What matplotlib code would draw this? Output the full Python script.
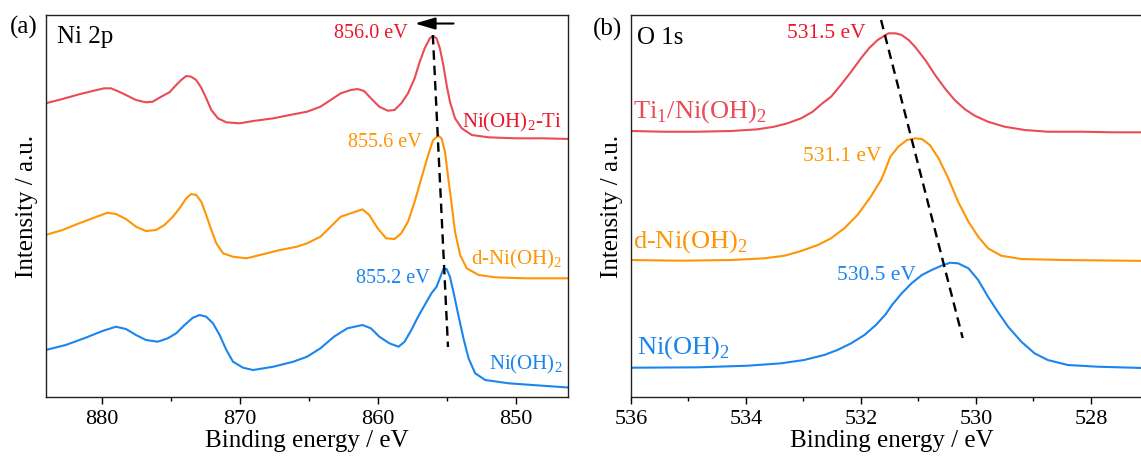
import matplotlib
matplotlib.use("Agg")
import matplotlib.pyplot as plt
from matplotlib.ticker import MultipleLocator

plt.rcParams['font.family'] = ['Liberation Serif', 'DejaVu Serif']
plt.rcParams['mathtext.fontset'] = 'custom'
plt.rcParams['mathtext.rm'] = 'Liberation Serif'

RED = '#ea4b55'
RED_TXT = '#e8192c'
ORANGE = '#ff9505'
BLUE = '#1b85ee'

ni_ticks = [880, 870, 860, 850]
o_ticks = [536, 534, 532, 530, 528]

# ---- Ni 2p spectra (binding energy / eV, intensity in a.u. with offsets)
ni_ti_be = [884.08, 882.86, 881.65, 880.68, 879.83, 879.34, 878.86, 878.25, 877.52, 876.80,
            876.31, 875.70, 875.10, 874.61, 874.25, 873.88, 873.52, 873.16, 872.79, 872.43,
            872.06, 871.58, 870.97, 870.00, 869.03, 867.57, 866.12, 865.12, 864.15, 863.41,
            862.68, 861.95, 861.46, 860.98, 860.49, 859.88, 859.27, 858.78, 858.29, 857.80,
            857.32, 856.95, 856.59, 856.22, 855.98, 855.73, 855.49, 855.24, 855.00, 854.76,
            854.39, 853.90, 853.17, 851.95, 850.00, 848.05, 845.95]
ni_ti_int = [293.7, 298.0, 302.7, 306.0, 308.7, 308.7, 306.0, 302.0, 297.0, 294.7,
             295.3, 300.3, 304.7, 312.0, 317.0, 321.0, 320.3, 317.0, 309.3, 298.7,
             287.0, 278.7, 274.7, 273.7, 276.0, 278.7, 282.7, 285.3, 290.3, 297.0,
             303.7, 307.0, 308.0, 306.0, 298.7, 290.3, 286.3, 287.0, 293.7, 303.7,
             318.7, 335.3, 348.7, 358.7, 361.0, 358.7, 348.7, 332.0, 312.0, 295.3,
             278.7, 268.7, 262.0, 259.7, 258.7, 258.7, 258.0]

d_ni_be = [884.08, 882.86, 881.65, 880.68, 879.59, 878.98, 878.25, 877.52, 876.80, 876.07,
           875.46, 874.85, 874.37, 873.88, 873.52, 873.16, 872.79, 872.43, 872.06, 871.70,
           871.21, 870.49, 869.51, 868.54, 867.09, 865.87, 865.12, 864.15, 863.41, 862.68,
           861.95, 861.10, 860.61, 860.00, 859.39, 858.78, 858.29, 857.80, 857.32, 856.83,
           856.34, 855.98, 855.61, 855.37, 855.12, 854.88, 854.63, 854.39, 854.02, 853.54,
           852.68, 851.46, 849.27, 845.95]
d_ni_int = [162.0, 167.0, 173.7, 178.7, 184.3, 183.0, 178.0, 170.3, 166.0, 167.0,
            172.0, 180.3, 188.7, 198.7, 203.0, 202.0, 195.3, 182.0, 167.0, 153.7,
            143.7, 140.3, 138.7, 142.0, 147.0, 150.3, 153.7, 160.3, 170.3, 180.3,
            183.7, 187.7, 182.0, 168.7, 158.7, 158.0, 163.7, 175.3, 195.3, 218.7,
            242.0, 257.0, 261.3, 258.7, 245.3, 218.7, 192.0, 165.3, 142.0, 128.7,
            122.0, 119.7, 118.7, 118.7]

ni_be = [884.08, 882.62, 881.17, 879.96, 878.98, 878.25, 877.52, 876.80, 875.95, 875.22,
         874.61, 874.00, 873.40, 872.91, 872.43, 871.94, 871.46, 870.97, 870.49, 869.76,
         869.03, 867.57, 866.12, 865.12, 864.15, 863.17, 862.20, 861.10, 860.49, 859.88,
         859.15, 858.49, 858.05, 857.56, 857.07, 856.59, 856.10, 855.73, 855.49, 855.24,
         855.00, 854.76, 854.51, 854.15, 853.78, 853.41, 852.93, 852.20, 850.49, 848.05,
         845.95]
ni_int = [47.0, 52.0, 59.3, 66.0, 70.3, 68.0, 62.0, 57.0, 55.3, 58.7,
          63.7, 72.0, 79.3, 82.0, 80.3, 73.7, 62.0, 47.0, 35.3, 29.3,
          27.0, 30.3, 35.3, 40.3, 48.7, 60.3, 68.7, 72.0, 68.7, 60.3,
          53.7, 50.3, 55.3, 67.0, 80.3, 92.0, 103.7, 110.3, 118.7, 128.0,
          128.0, 120.3, 105.3, 82.0, 58.7, 38.7, 23.7, 17.0, 13.7, 11.3,
          9.3]

ni_shift_be = [856.0, 854.9]
ni_shift_int = [362, 50]

# ---- O 1s spectra
o_ti_be = [536.00, 535.42, 534.84, 534.26, 533.80, 533.51, 533.28, 533.04, 532.84, 532.67,
           532.52, 532.35, 532.17, 532.00, 531.86, 531.71, 531.57, 531.52, 531.40, 531.29,
           531.17, 531.06, 530.88, 530.71, 530.54, 530.37, 530.19, 530.02, 529.79, 529.50,
           529.15, 528.75, 528.17, 527.60, 526.90]
o_ti_int = [266.0, 265.3, 265.3, 266.0, 267.7, 270.3, 273.7, 278.7, 285.3, 293.7,
            300.3, 312.0, 325.3, 338.7, 348.7, 357.0, 362.0, 363.7, 363.7, 362.0,
            357.0, 350.3, 337.0, 322.0, 308.7, 297.0, 287.7, 281.3, 275.3, 270.3,
            267.0, 265.3, 265.3, 264.7, 264.7]

o_d_be = [536.00, 535.13, 534.26, 533.68, 533.33, 533.04, 532.75, 532.52, 532.29, 532.06,
          531.83, 531.65, 531.57, 531.49, 531.35, 531.20, 531.06, 530.94, 530.80, 530.65,
          530.48, 530.31, 530.13, 529.96, 529.79, 529.56, 529.21, 528.46, 526.90]
o_d_int = [137.0, 136.3, 137.0, 138.7, 141.3, 146.0, 152.0, 158.7, 168.7, 182.0,
           200.3, 217.0, 228.0, 240.3, 250.3, 257.0, 258.7, 258.0, 252.0, 238.7,
           218.7, 195.3, 175.3, 160.3, 148.7, 141.3, 138.0, 137.0, 136.0]

o_ni_be = [536.00, 534.84, 533.97, 533.39, 532.99, 532.64, 532.41, 532.17, 531.94, 531.74,
           531.57, 531.46, 531.29, 531.12, 530.94, 530.77, 530.60, 530.45, 530.31, 530.13,
           529.96, 529.79, 529.62, 529.44, 529.21, 528.98, 528.75, 528.40, 527.88, 526.90]
o_ni_int = [29.3, 29.7, 31.3, 33.7, 37.0, 42.0, 47.0, 53.7, 62.0, 72.0,
            82.7, 92.0, 103.7, 113.7, 122.0, 127.0, 131.3, 134.3, 133.7, 128.7,
            117.0, 100.3, 85.3, 70.3, 55.3, 43.7, 37.0, 32.0, 30.3, 28.7]

o_shift_be = [531.65, 530.23]
o_shift_int = [377, 59]

fig = plt.figure(figsize=(11.41, 4.65), dpi=100)
ax1 = fig.add_axes([0.0403, 0.1462, 0.4575, 0.8215])
ax2 = fig.add_axes([0.5530, 0.1462, 0.4575, 0.8215])

for ax, ticks in ((ax1, ni_ticks), (ax2, o_ticks)):
    ax.set_ylim(0, 382)
    ax.set_yticks([])
    ax.set_xticks(ticks, [str(t) for t in ticks],
                  fontfamily='Liberation Serif', fontsize=16)
    ax.tick_params(axis='x', which='major', direction='out', length=5, width=1, pad=4)
    ax.tick_params(axis='x', which='minor', direction='out', length=3, width=1)
    for s in ax.spines.values():
        s.set_linewidth(1.0)
        s.set_color('#222222')
    ax.set_xlabel('Binding energy / eV', fontsize=18, labelpad=1)
    ax.set_ylabel('Intensity / a.u.', fontsize=18, labelpad=6)

# (a) Ni 2p
ax1.plot(ni_ti_be, ni_ti_int, color=RED, lw=1.5)
ax1.plot(d_ni_be, d_ni_int, color=ORANGE, lw=1.5)
ax1.plot(ni_be, ni_int, color=BLUE, lw=1.5)
ax1.plot(ni_shift_be, ni_shift_int, color='k', lw=1.7, dashes=[4, 2.5])
ax1.set_xlim(884.05, 846.2)
ax1.xaxis.set_minor_locator(MultipleLocator(5))
ax1.annotate('', xy=(857.3, 373.5), xytext=(854.5, 373.5),
             arrowprops=dict(arrowstyle='-|>,head_length=0.68,head_width=0.2',
                             color='k', lw=1.5, mutation_scale=18,
                             shrinkA=0, shrinkB=0))
ax1.text(857.8, 364, '856.0 eV', color=RED_TXT, fontsize=14.5, ha='right', va='center')
ax1.text(856.8, 255, '855.6 eV', color=ORANGE, fontsize=14.5, ha='right', va='center')
ax1.text(856.2, 119, '855.2 eV', color=BLUE, fontsize=14.5, ha='right', va='center')
ax1.text(846.6, 275, r'Ni(OH)$_{\mathrm{2}}$-Ti', color=RED_TXT, fontsize=15, ha='right', va='center')
ax1.text(846.6, 138, r'd-Ni(OH)$_{\mathrm{2}}$', color=ORANGE, fontsize=15, ha='right', va='center')
ax1.text(846.6, 33, r'Ni(OH)$_{\mathrm{2}}$', color=BLUE, fontsize=15, ha='right', va='center')
ax1.text(0.022, 0.942, 'Ni 2p', transform=ax1.transAxes, fontsize=18, va='center')

# (b) O 1s
ax2.plot(o_ti_be, o_ti_int, color=RED, lw=1.5)
ax2.plot(o_d_be, o_d_int, color=ORANGE, lw=1.5)
ax2.plot(o_ni_be, o_ni_int, color=BLUE, lw=1.5)
ax2.plot(o_shift_be, o_shift_int, color='k', lw=1.7, dashes=[4, 2.5])
ax2.set_xlim(536, 526.92)
ax2.xaxis.set_minor_locator(MultipleLocator(1))
ax2.spines['right'].set_visible(False)
ax2.text(531.91, 364, '531.5 eV', color=RED_TXT, fontsize=15.5, ha='right', va='center')
ax2.text(531.64, 241, '531.1 eV', color=ORANGE, fontsize=15.5, ha='right', va='center')
ax2.text(531.05, 122, '530.5 eV', color=BLUE, fontsize=15.5, ha='right', va='center')
ax2.text(535.97, 285, r'Ti$_{\mathrm{1}}$/Ni(OH)$_{\mathrm{2}}$', color=RED, fontsize=19, ha='left', va='center')
ax2.text(535.97, 155, r'd-Ni(OH)$_{\mathrm{2}}$', color=ORANGE, fontsize=19, ha='left', va='center')
ax2.text(535.9, 49, r'Ni(OH)$_{\mathrm{2}}$', color=BLUE, fontsize=19, ha='left', va='center')
ax2.text(0.012, 0.94, 'O 1s', transform=ax2.transAxes, fontsize=18, va='center')

fig.text(24 / 1141, 1 - 27 / 465, '(a)', fontsize=18, ha='center', va='center')
fig.text(607 / 1141, 1 - 29 / 465, '(b)', fontsize=18, ha='center', va='center')

fig.savefig('out.png', dpi=100)
